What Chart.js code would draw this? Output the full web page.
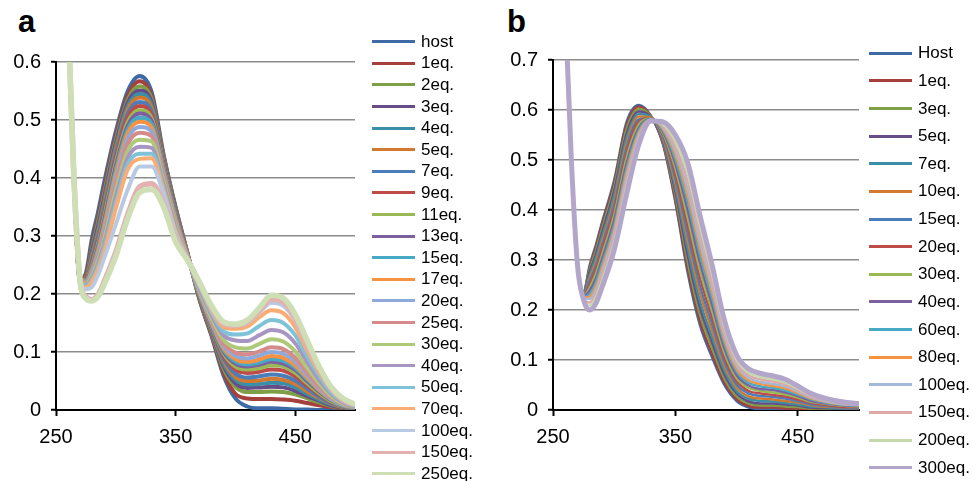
<!DOCTYPE html>
<html>
<head>
<meta charset="utf-8">
<script src="https://cdn.jsdelivr.net/npm/chart.js@4.4.1/dist/chart.umd.min.js"></script>
<style>
  html, body { margin: 0; padding: 0; background: #fff; overflow: hidden; }
  body { width: 973px; height: 481px; position: relative; font-family: "Liberation Sans", Arial, sans-serif; }
  canvas { position: absolute; top: 0; }
  .tag { position: absolute; font-weight: bold; font-size: 31px; line-height: 1; color: #000; }
  .item { position: absolute; height: 20px; display: flex; align-items: center; font-size: 17px; color: #000; white-space: nowrap; }
  .item i { display: block; width: 43px; height: 3px; margin-right: 6px; }
</style>
</head>
<body>
<div class="tag" style="left:18px; top:6px;">a</div>
<div class="tag" style="left:507px; top:6px;">b</div>
<canvas id="chartA" width="485" height="481" style="left:0;"></canvas>
<canvas id="chartB" width="488" height="481" style="left:485px;"></canvas>
<div id="legendA"></div>
<div id="legendB"></div>
<script>
// wavelength grid (nm)
const wavelengths = [255, 260, 265, 270, 275, 280, 285, 290, 300, 310, 320, 330, 340, 350, 360, 370, 380, 390, 400, 410, 420, 430, 440, 450, 460, 470, 480, 490, 500];
const xTicks = [250, 350, 450];
const yTicksA = [0, 0.1, 0.2, 0.3, 0.4, 0.5, 0.6];
const yTicksB = [0, 0.1, 0.2, 0.3, 0.4, 0.5, 0.6, 0.7];

// panel a
const labelsA = ['host', '1eq.', '2eq.', '3eq.', '4eq.', '5eq.', '7eq.', '9eq.', '11eq.', '13eq.', '15eq.', '17eq.', '20eq.', '25eq.', '30eq.', '40eq.', '50eq.', '70eq.', '100eq.', '150eq.', '250eq.'];
const aHost = [1.0, .68, .40, .225, .236, .295, .34, .39, .48, .55, .576, .548, .44, .35, .27, .19, .128, .06, .02, .006, .003, .003, .002, .001, .001, 0, 0, 0, 0];
const a1 = [1.0, .68, .40, .225, .233, .285, .33, .38, .472, .542, .567, .541, .437, .348, .27, .191, .13, .065, .028, .02, .019, .019, .018, .016, .012, .008, .005, .003, .002];
const a2 = [1.0, .68, .40, .225, .229, .277, .322, .371, .465, .535, .558, .535, .434, .346, .269, .193, .133, .072, .04, .031, .031, .032, .031, .027, .02, .013, .007, .004, .002];
const a3 = [1.0, .68, .40, .225, .227, .272, .315, .364, .459, .53, .551, .53, .431, .344, .269, .194, .135, .077, .046, .038, .039, .04, .039, .033, .024, .016, .008, .004, .002];
const a4 = [1.0, .68, .40, .225, .226, .267, .308, .357, .453, .524, .545, .525, .428, .342, .268, .195, .137, .081, .052, .044, .045, .047, .046, .039, .028, .018, .01, .005, .003];
const a5 = [1.0, .68, .40, .225, .226, .262, .302, .35, .447, .518, .539, .52, .426, .34, .268, .196, .139, .085, .057, .05, .051, .054, .052, .045, .032, .021, .011, .005, .003];
const a7 = [1.0, .68, .40, .225, .225, .257, .296, .343, .44, .511, .531, .514, .423, .338, .267, .197, .141, .089, .063, .056, .058, .061, .059, .051, .037, .023, .012, .006, .003];
const a9 = [1.0, .68, .40, .225, .225, .253, .29, .336, .433, .504, .524, .509, .42, .336, .267, .198, .143, .094, .07, .064, .066, .07, .068, .058, .042, .027, .014, .007, .004];
const a11 = [1.0, .68, .40, .225, .224, .249, .285, .33, .426, .497, .517, .503, .417, .334, .266, .199, .145, .098, .075, .07, .072, .077, .075, .064, .046, .029, .015, .007, .004];
const a13 = [1.0, .68, .40, .225, .223, .246, .28, .324, .42, .49, .511, .498, .414, .332, .266, .2, .147, .101, .08, .075, .078, .083, .08, .069, .05, .032, .017, .008, .004];
const a15 = [1.0, .68, .40, .225, .222, .243, .276, .318, .413, .484, .504, .493, .411, .33, .265, .201, .149, .104, .084, .079, .082, .088, .085, .073, .053, .034, .018, .008, .004];
const a17 = [1.0, .68, .40, .225, .221, .24, .272, .313, .406, .477, .497, .487, .408, .328, .265, .202, .151, .107, .088, .083, .087, .093, .09, .077, .056, .035, .019, .009, .005];
const a20 = [1.0, .68, .40, .225, .22, .237, .267, .306, .397, .468, .488, .48, .404, .325, .264, .203, .153, .111, .093, .089, .094, .1, .097, .083, .06, .038, .02, .009, .005];
const a25 = [1.0, .68, .40, .225, .219, .234, .262, .299, .388, .458, .478, .472, .399, .322, .264, .205, .156, .115, .099, .096, .101, .108, .105, .09, .065, .041, .022, .01, .005];
const a30 = [1.0, .68, .40, .225, .217, .231, .257, .292, .378, .447, .466, .463, .393, .318, .263, .207, .159, .121, .108, .106, .114, .122, .118, .101, .073, .046, .024, .011, .006];
const a40 = [1.0, .68, .40, .225, .215, .227, .251, .284, .367, .435, .454, .452, .387, .314, .262, .21, .164, .129, .12, .119, .129, .138, .134, .115, .083, .052, .028, .013, .006];
const a50 = [1.0, .68, .40, .225, .213, .224, .246, .277, .356, .424, .442, .442, .381, .31, .262, .213, .168, .136, .13, .132, .145, .155, .15, .129, .093, .059, .031, .015, .007];
const a70 = [1.0, .68, .40, .225, .211, .221, .241, .27, .347, .415, .433, .434, .377, .307, .261, .216, .172, .143, .14, .144, .16, .172, .167, .143, .103, .065, .035, .016, .008];
const a100 = [1.0, .68, .40, .225, .208, .212, .232, .26, .32, .38, .42, .42, .372, .302, .26, .218, .175, .148, .145, .15, .168, .185, .18, .154, .111, .07, .037, .017, .008];
const a150 = [1.0, .68, .40, .225, .195, .19, .198, .22, .272, .337, .385, .39, .355, .293, .259, .219, .177, .15, .146, .152, .172, .191, .186, .159, .115, .073, .038, .018, .009];
const a250 = [1.0, .68, .40, .225, .192, .188, .195, .215, .265, .33, .375, .38, .35, .29, .258, .22, .18, .152, .148, .155, .176, .198, .193, .165, .12, .075, .04, .02, .01];
const seriesA = [aHost, a1, a2, a3, a4, a5, a7, a9, a11, a13, a15, a17, a20, a25, a30, a40, a50, a70, a100, a150, a250];

// panel b
const labelsB = ['Host', '1eq.', '3eq.', '5eq.', '7eq.', '10eq.', '15eq.', '20eq.', '30eq.', '40eq.', '60eq.', '80eq.', '100eq.', '150eq.', '200eq.', '300eq.'];
const bHost = [1.0, .8, .5, .29, .238, .29, .33, .375, .46, .575, .61, .588, .53, .415, .275, .17, .105, .05, .018, .005, .002, .002, .001, .001, 0, 0, 0, 0, 0];
const b1 = [1.0, .8, .5, .29, .237, .286, .325, .37, .454, .569, .607, .588, .532, .42, .284, .179, .112, .055, .022, .008, .005, .005, .003, .003, .001, .001, .001, .001, .001];
const b3 = [1.0, .8, .5, .29, .236, .281, .318, .362, .446, .561, .602, .587, .535, .429, .297, .192, .124, .063, .027, .013, .009, .009, .007, .006, .003, .003, .002, .002, .001];
const b5 = [1.0, .8, .5, .29, .235, .276, .311, .354, .438, .552, .597, .586, .537, .437, .31, .205, .135, .071, .033, .017, .013, .013, .011, .009, .005, .004, .003, .002, .002];
const b7 = [1.0, .8, .5, .29, .234, .27, .304, .346, .429, .543, .592, .586, .54, .445, .323, .218, .146, .079, .038, .022, .018, .017, .014, .011, .007, .006, .004, .003, .003];
const b10 = [1.0, .8, .5, .29, .233, .264, .296, .337, .419, .533, .587, .585, .543, .454, .339, .234, .159, .088, .045, .027, .023, .021, .018, .015, .01, .007, .006, .004, .004];
const b15 = [1.0, .8, .5, .29, .232, .258, .288, .328, .41, .523, .581, .584, .547, .464, .354, .249, .172, .097, .051, .033, .028, .026, .023, .018, .012, .009, .007, .005, .005];
const b20 = [1.0, .8, .5, .29, .23, .251, .28, .319, .4, .513, .576, .584, .55, .473, .37, .265, .185, .106, .058, .038, .033, .03, .027, .021, .015, .011, .008, .006, .006];
const b30 = [1.0, .8, .5, .29, .229, .245, .272, .31, .39, .503, .57, .583, .553, .483, .385, .28, .198, .115, .064, .044, .038, .035, .031, .025, .017, .013, .01, .008, .007];
const b40 = [1.0, .8, .5, .29, .228, .239, .263, .301, .38, .492, .564, .582, .556, .492, .4, .295, .21, .124, .07, .049, .042, .04, .035, .028, .019, .014, .011, .009, .007];
const b60 = [1.0, .8, .5, .29, .226, .232, .255, .292, .37, .482, .559, .582, .559, .501, .416, .311, .223, .133, .077, .054, .047, .044, .039, .031, .022, .016, .012, .01, .008];
const b80 = [1.0, .8, .5, .29, .225, .227, .248, .284, .362, .474, .554, .581, .562, .51, .429, .324, .235, .141, .082, .059, .052, .048, .043, .034, .024, .018, .013, .011, .009];
const b100 = [1.0, .8, .5, .29, .224, .222, .241, .276, .354, .465, .549, .58, .565, .518, .442, .337, .246, .149, .088, .064, .056, .052, .047, .037, .026, .019, .014, .011, .01];
const b150 = [1.0, .8, .5, .29, .223, .215, .233, .267, .344, .455, .544, .58, .568, .527, .458, .353, .259, .158, .094, .069, .061, .057, .051, .04, .028, .021, .016, .012, .011];
const b200 = [1.0, .8, .5, .29, .222, .209, .225, .258, .334, .445, .538, .579, .571, .537, .473, .368, .272, .167, .101, .074, .066, .061, .055, .043, .031, .023, .017, .014, .012];
const b300 = [1.0, .8, .5, .29, .22, .2, .213, .245, .32, .43, .53, .578, .576, .55, .495, .39, .29, .18, .11, .082, .073, .068, .061, .048, .034, .025, .019, .015, .013];
const seriesB = [bHost, b1, b3, b5, b7, b10, b15, b20, b30, b40, b60, b80, b100, b150, b200, b300];

// colours
const colorsA = ['#3e6ba5', '#a5403d', '#7f9f47', '#664d88', '#3a8ea7', '#d2792f', '#4a7ebb', '#be4b48', '#98b954', '#7d60a0', '#46aac5', '#f69240',
  '#8eaadb', '#d58b89', '#afc97a', '#a896c2', '#7fc3d8', '#fbab74', '#b7c9e3', '#e2b1b0', '#cfdfb5'];
const colorsB = ['#3e6ba5', '#a5403d', '#7f9f47', '#664d88', '#3a8ea7', '#d2792f', '#4a7ebb', '#be4b48', '#98b954', '#7d60a0', '#46aac5', '#f69240',
  '#a4b8da', '#dea8a7', '#c5d9ad', '#b2a6cb'];

const FONT = '"Liberation Sans", Arial, sans-serif';

function makePanel(id, series, colors, lineW, yTicks, pad) {
  const n = series.length;
  const datasets = series.map((vals, i) => ({
    data: vals.map((v, j) => ({ x: wavelengths[j], y: v })),
    borderColor: colors[i],
    borderWidth: lineW(i, n),
    pointRadius: 0,
    cubicInterpolationMode: 'monotone',
    fill: false,
    order: n - i   // later series on top, like the original
  }));
  return new Chart(document.getElementById(id), {
    type: 'line',
    data: { datasets },
    options: {
      responsive: false,
      animation: false,
      events: [],
      layout: { padding: pad },
      plugins: { legend: { display: false }, tooltip: { enabled: false } },
      scales: {
        x: {
          type: 'linear', min: 250, max: 500,
          afterBuildTicks: s => { s.ticks = xTicks.map(v => ({ value: v })); },
          afterFit: s => { s.height = 40; },
          grid: { drawOnChartArea: false, tickLength: 6, tickColor: '#000', tickWidth: 2 },
          border: { color: '#000', width: 2 },
          ticks: { color: '#000', font: { size: 20, family: FONT }, padding: 9, maxRotation: 0 }
        },
        y: {
          min: 0, max: yTicks[yTicks.length - 1],
          afterBuildTicks: s => { s.ticks = yTicks.map(v => ({ value: v })); },
          afterFit: s => { s.width = 50; },
          grid: { color: '#8c8c8c', lineWidth: 1.5, tickLength: 5, tickColor: '#000', tickWidth: 2 },
          border: { color: '#000', width: 2 },
          ticks: { color: '#000', font: { size: 20, family: FONT }, padding: 10, callback: v => String(v) }
        }
      }
    }
  });
}

makePanel('chartA', seriesA, colorsA, (i, n) => (i >= n - 2 ? 5.5 : 4), yTicksA, { left: 6, top: 62, right: 130, bottom: 31 });
makePanel('chartB', seriesB, colorsB, (i, n) => (i === n - 1 ? 5 : 2.5), yTicksB, { left: 18, top: 60, right: 114, bottom: 31 });

function buildLegend(id, labels, colors, left, top0, step) {
  const box = document.getElementById(id);
  labels.forEach((t, i) => {
    const d = document.createElement('div');
    d.className = 'item';
    d.style.left = left + 'px';
    d.style.top = (top0 + i * step - 10) + 'px';
    const line = document.createElement('i');
    line.style.background = colors[i];
    d.appendChild(line);
    d.appendChild(document.createTextNode(t));
    box.appendChild(d);
  });
}
buildLegend('legendA', labelsA, colorsA, 372, 41.7, 21.6);
buildLegend('legendB', labelsB, colorsB, 869, 53.3, 27.63);
</script>
</body>
</html>
